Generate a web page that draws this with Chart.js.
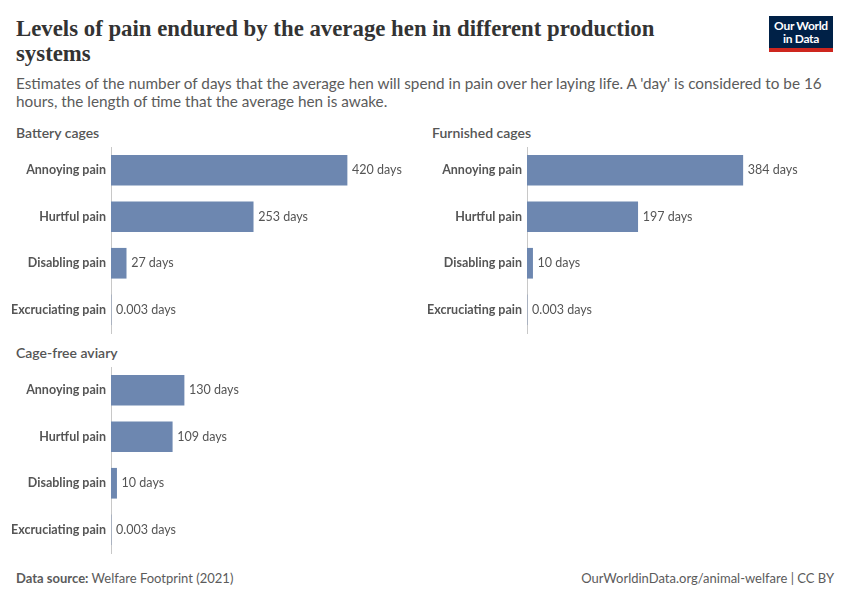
<!DOCTYPE html>
<html>
<head>
<meta charset="utf-8">
<script src="https://cdn.jsdelivr.net/npm/chart.js@4"></script>
<style>
  body { margin: 0; width: 850px; height: 600px; background: #fff; position: relative; overflow: hidden; font-family: Lato, sans-serif; }
  .abs { position: absolute; }
  #title { left: 16px; top: 16px; width: 700px; font-family: "Liberation Serif", serif; font-size: 22.8px; line-height: 25px; color: #333; font-weight: 600; }
  #subtitle { left: 16px; top: 74px; width: 822px; font-size: 15.3px; line-height: 18px; color: #5b5b5b; }
  .panel-title { font-size: 14px; color: #555; font-weight: 600; }
  #logo { left: 769px; top: 16px; width: 64px; height: 29px; background: #002147; border-bottom: 4px solid #ce261e; color: #fff; text-align: center; font-size: 12px; line-height: 13px; font-weight: 700; padding-top: 3px; box-sizing: content-box; letter-spacing: -0.3px; }
  .foot { top: 570px; font-size: 13px; color: #5b5b5b; }
  canvas { position: absolute; }
</style>
</head>
<body>
<div id="title" class="abs">Levels of pain endured by the average hen in different production systems</div>
<div id="subtitle" class="abs">Estimates of the number of days that the average hen will spend in pain over her laying life. A 'day' is considered to be 16 hours, the length of time that the average hen is awake.</div>
<div id="logo" class="abs">Our World<br>in Data</div>

<div class="abs panel-title" style="left:16px; top:124px;">Battery cages</div>
<div class="abs panel-title" style="left:432px; top:124px;">Furnished cages</div>
<div class="abs panel-title" style="left:16px; top:344px;">Cage-free aviary</div>

<canvas id="battery" style="left:0px; top:141px; width:420px; height:196px;"></canvas>
<canvas id="furnished" style="left:416px; top:141px; width:420px; height:196px;"></canvas>
<canvas id="cagefree" style="left:0px; top:361px; width:420px; height:196px;"></canvas>

<div class="abs foot" style="left:16px;"><span style="font-weight:700;">Data source:</span> Welfare Footprint (2021)</div>
<div class="abs foot" style="right:16px;">OurWorldinData.org/animal-welfare | CC BY</div>

<script>
// Kategorier och värden (dagar i smärta)
const categories = ['Annoying pain', 'Hurtful pain', 'Disabling pain', 'Excruciating pain'];
const batteryCages = [420, 253, 27, 0.003];
const furnishedCages = [384, 197, 10, 0.003];
const cageFreeAviary = [130, 109, 10, 0.003];

const barColor = '#6d87b0';
const textColor = '#555';

// Skriv ut "xx days" efter varje stapel
const valueLabels = {
    id: 'valueLabels',
    afterDatasetsDraw(chart) {
        const ctx = chart.ctx;
        const data = chart.data.datasets[0].data;
        ctx.save();
        ctx.font = '12.5px Lato';
        ctx.fillStyle = textColor;
        ctx.textBaseline = 'middle';
        ctx.textAlign = 'left';
        chart.getDatasetMeta(0).data.forEach((bar, i) => {
            ctx.fillText(data[i] + ' days', bar.x + 5, bar.y);
        });
        ctx.restore();
    }
};

function makeChart(id, values) {
    new Chart(document.getElementById(id), {
        type: 'bar',
        data: {
            labels: categories,
            datasets: [{
                data: values,
                backgroundColor: barColor,
                barThickness: 30
            }]
        },
        options: {
            indexAxis: 'y',
            responsive: false,
            animation: false,
            layout: { padding: { top: 6, bottom: 4, right: 19, left: 0 } },
            plugins: { legend: { display: false }, tooltip: { enabled: false } },
            scales: {
                x: { display: false, min: 0, max: 516 },
                y: {
                    afterFit(scale) {
                        scale.width = 111;
                        scale.paddingTop = 0;
                        scale.paddingBottom = 0;
                    },
                    grid: { display: false, drawTicks: false },
                    border: { display: true, color: '#c8c8c8', width: 1 },
                    ticks: {
                        color: textColor,
                        padding: 5,
                        font: { family: 'Lato', size: 12.5, weight: 'bold' }
                    }
                }
            }
        },
        plugins: [valueLabels]
    });
}

makeChart('battery', batteryCages);
makeChart('furnished', furnishedCages);
makeChart('cagefree', cageFreeAviary);
</script>
</body>
</html>
